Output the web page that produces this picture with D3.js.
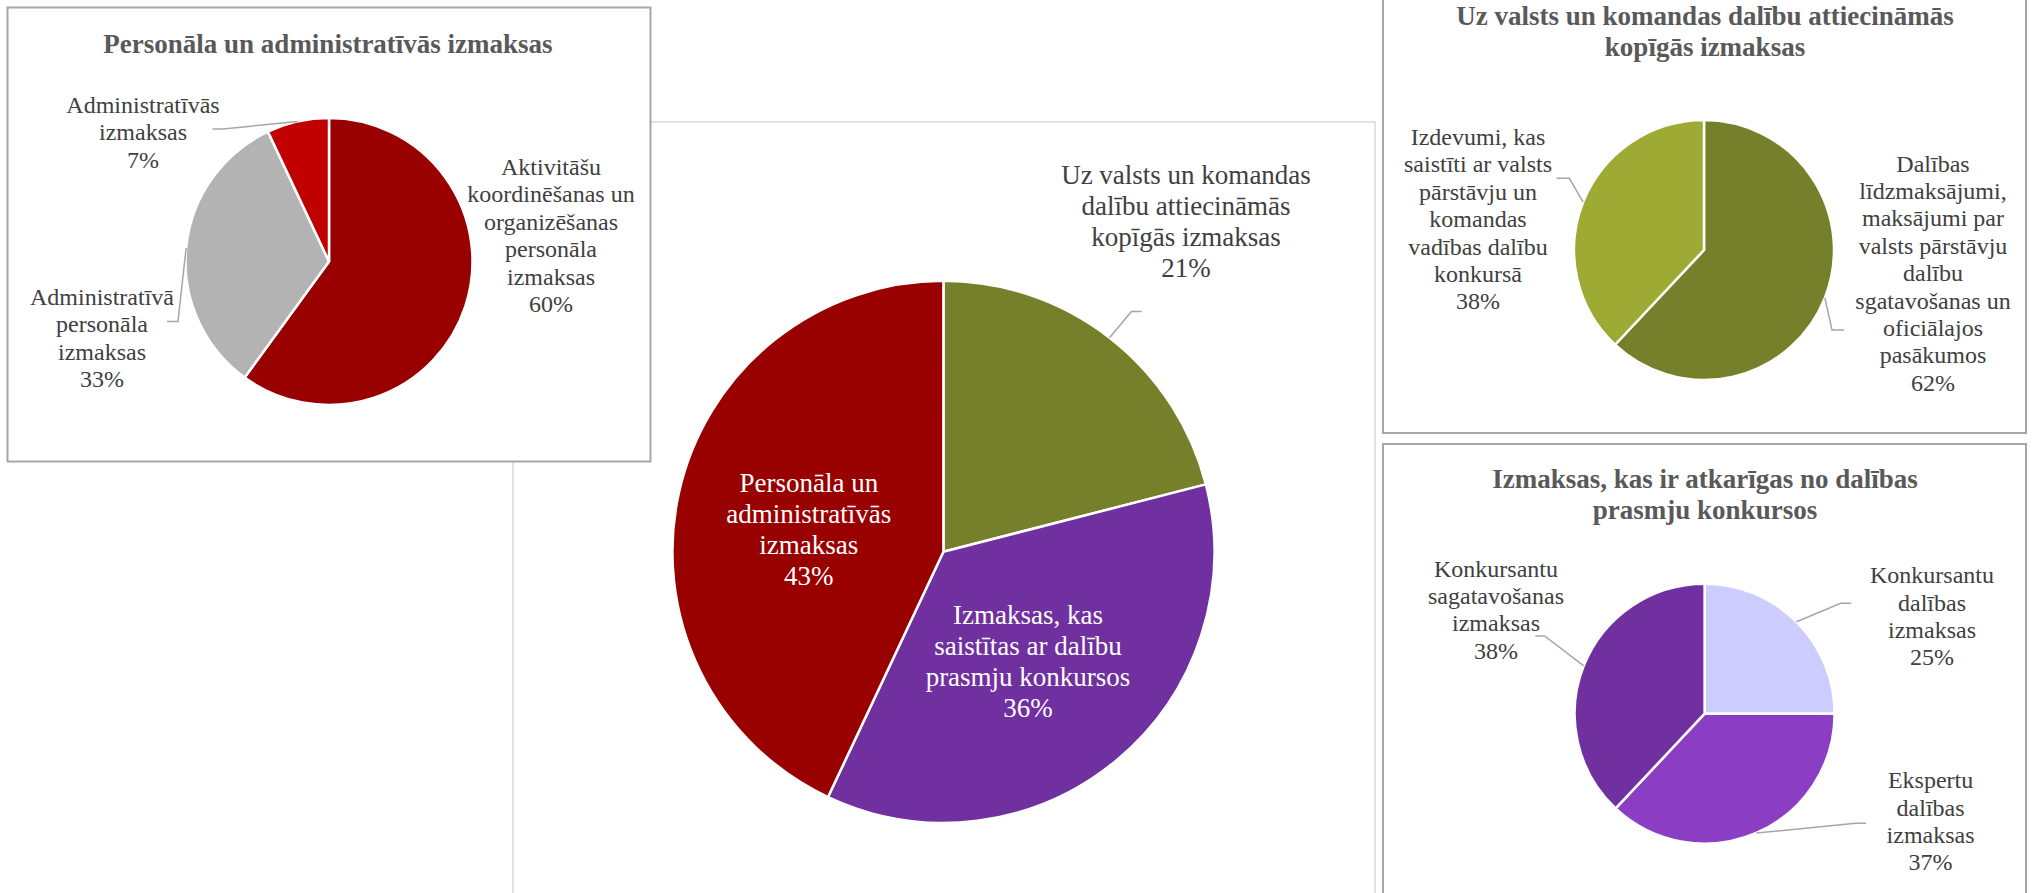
<!DOCTYPE html>
<html>
<head>
<meta charset="utf-8">
<script src="https://cdn.jsdelivr.net/npm/d3@7"></script>
<style>
  html, body { margin: 0; padding: 0; background: #fff; overflow: hidden; }
  svg { display: block; }
  text { font-family: "Liberation Serif", "Times New Roman", serif; }
</style>
</head>
<body>
<svg id="chart" width="2035" height="893"></svg>
<script>
// ---- data ----
const staffTitle = ['Personāla un administratīvās izmaksas'];
const staffLabels = [
    ['Aktivitāšu', 'koordinēšanas un', 'organizēšanas', 'personāla', 'izmaksas'],
    ['Administratīvā', 'personāla', 'izmaksas'],
    ['Administratīvās', 'izmaksas']
];
const staffValues = [60, 33, 7];

const totalLabels = [
    ['Uz valsts un komandas', 'dalību attiecināmās', 'kopīgās izmaksas'],
    ['Izmaksas, kas', 'saistītas ar dalību', 'prasmju konkursos'],
    ['Personāla un', 'administratīvās', 'izmaksas']
];
const totalValues = [21, 36, 43];

const sharedTitle = ['Uz valsts un komandas dalību attiecināmās', 'kopīgās izmaksas'];
const sharedLabels = [
    ['Dalības', 'līdzmaksājumi,', 'maksājumi par', 'valsts pārstāvju', 'dalību', 'sgatavošanas un', 'oficiālajos', 'pasākumos'],
    ['Izdevumi, kas', 'saistīti ar valsts', 'pārstāvju un', 'komandas', 'vadības dalību', 'konkursā']
];
const sharedValues = [62, 38];

const contestTitle = ['Izmaksas, kas ir atkarīgas no dalības', 'prasmju konkursos'];
const contestLabels = [
    ['Konkursantu', 'dalības', 'izmaksas'],
    ['Ekspertu', 'dalības', 'izmaksas'],
    ['Konkursantu', 'sagatavošanas', 'izmaksas']
];
const contestValues = [25, 37, 38];

// ---- layout ----
const svg = d3.select('#chart'),
    labelColor = '#404040',
    titleColor = '#595959',
    leaderColor = '#A6A6A6',
    boxColor = '#A6A6A6';

const charts = [
    {
        box: { x: 513, y: 122, w: 862, h: 800, stroke: '#D9D9D9', sw: 1.5 },
        cx: 943.4, cy: 551.8, r: 271, font: 27, lh: 31,
        values: totalValues, labels: totalLabels,
        colors: ['#76802A', '#7030A0', '#990000'],
        place: [
            { dx: 242.6, dy: -368, lead: [188, -240.4, 198.4] },
            { dx: 84.6, dy: 71.7, inside: true },
            { dx: -134.6, dy: -59.8, inside: true }
        ]
    },
    {
        box: { x: 7.5, y: 7.5, w: 643, h: 454, stroke: boxColor, sw: 2 },
        title: staffTitle, tx: 328, ty: 53,
        cx: 329, cy: 261.5, r: 143.5, font: 24, lh: 27.4,
        values: staffValues, labels: staffLabels,
        colors: ['#990000', '#B3B3B3', '#C00000'],
        place: [
            { dx: 222, dy: -86.5 },
            { dx: -227, dy: 43.5, lead: [-151, 60, -162] },
            { dx: -186, dy: -148.5, lead: [-106, -132.5, -116.5] }
        ]
    },
    {
        box: { x: 1383, y: -10, w: 643, h: 443, stroke: boxColor, sw: 2 },
        title: sharedTitle, tx: 1705, ty: 25,
        cx: 1704, cy: 250, r: 130, font: 24, lh: 27.4,
        values: sharedValues, labels: sharedLabels,
        colors: ['#76802A', '#9DAB34'],
        place: [
            { dx: 229, dy: -78.3, lead: [128, 80, 140] },
            { dx: -226, dy: -105, lead: [-134.7, -71.7, -147.4] }
        ]
    },
    {
        box: { x: 1383, y: 444, w: 643, h: 480, stroke: boxColor, sw: 2 },
        title: contestTitle, tx: 1705, ty: 488,
        cx: 1704.6, cy: 713.7, r: 130, font: 24, lh: 27.4,
        values: contestValues, labels: contestLabels,
        colors: ['#CCCCFF', '#8B3DC3', '#7030A0'],
        place: [
            { dx: 227.4, dy: -130.4, lead: [136, -110.4, 146.7] },
            { dx: 226, dy: 74.6, lead: [151, 109.6, 161.4] },
            { dx: -208.6, dy: -137, lead: [-160, -77.7, -169.2] }
        ]
    }
];

function drawPie(c) {
    const g = svg.append('g');

    g.append('rect')
        .attr('x', c.box.x).attr('y', c.box.y)
        .attr('width', c.box.w).attr('height', c.box.h)
        .attr('fill', '#fff')
        .attr('stroke', c.box.stroke)
        .attr('stroke-width', c.box.sw);

    if (c.title) {
        g.append('text')
            .attr('x', c.tx).attr('y', c.ty)
            .attr('text-anchor', 'middle')
            .attr('font-size', 27)
            .attr('font-weight', 'bold')
            .attr('fill', titleColor)
            .selectAll('tspan')
            .data(c.title)
            .join('tspan')
            .attr('x', c.tx)
            .attr('dy', (d, i) => i ? 30.5 : 0)
            .text(d => d);
    }

    const pie = d3.pie().sort(null).value(d => d),
        arc = d3.arc().innerRadius(0).outerRadius(c.r),
        color = d3.scaleOrdinal().domain(d3.range(c.values.length)).range(c.colors),
        arcs = pie(c.values),
        plot = g.append('g').attr('transform', `translate(${c.cx},${c.cy})`);

    plot.selectAll('path.slice')
        .data(arcs)
        .join('path')
        .attr('class', 'slice')
        .attr('d', arc)
        .attr('fill', (d, i) => color(i))
        .attr('stroke', '#fff')
        .attr('stroke-width', 2.5)
        .attr('stroke-linejoin', 'round');

    // leader lines from the slice's outer mid point
    plot.selectAll('path.leader')
        .data(arcs.filter((d, i) => c.place[i].lead))
        .join('path')
        .attr('class', 'leader')
        .attr('fill', 'none')
        .attr('stroke', leaderColor)
        .attr('stroke-width', 1.5)
        .attr('d', d => {
            const p = c.place[d.index].lead,
                a = (d.startAngle + d.endAngle) / 2,
                x0 = Math.sin(a) * c.r,
                y0 = -Math.cos(a) * c.r;
            return d3.line()([[x0, y0], [p[0], p[1]], [p[2], p[1]]]);
        });

    const labels = plot.selectAll('text.label')
        .data(arcs)
        .join('text')
        .attr('class', 'label')
        .attr('text-anchor', 'middle')
        .attr('font-size', c.font)
        .attr('fill', (d, i) => c.place[i].inside ? '#fff' : labelColor)
        .attr('transform', (d, i) => `translate(${c.place[i].dx},${c.place[i].dy})`);

    labels.selectAll('tspan')
        .data(d => c.labels[d.index].concat([d.data + '%']))
        .join('tspan')
        .attr('x', 0)
        .attr('y', (d, i) => i * c.lh)
        .text(d => d);
}

charts.forEach(drawPie);
</script>
</body>
</html>
